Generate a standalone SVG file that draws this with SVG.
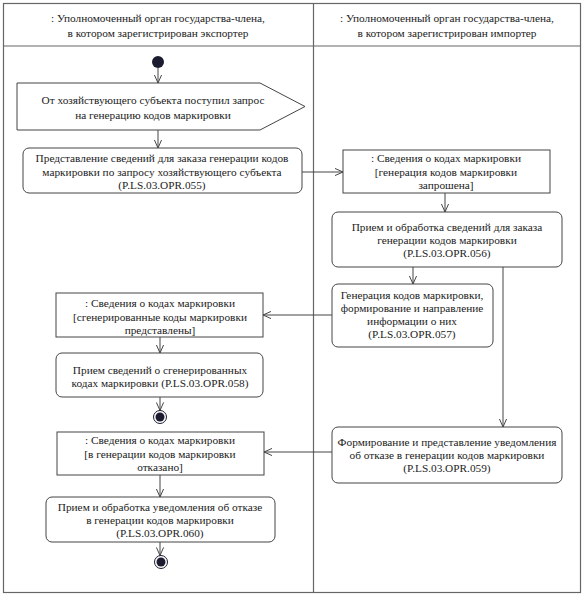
<svg xmlns="http://www.w3.org/2000/svg" width="587" height="598" viewBox="0 0 587 598">
<defs>
<style>
text{font-family:'Liberation Serif','Times New Roman',serif;font-size:11.3px;fill:#222;text-anchor:middle}
.box{fill:#fff;stroke:#444;stroke-width:1}
.frame{fill:none;stroke:#666;stroke-width:1.2}
.conn{fill:none;stroke:#444;stroke-width:1}
</style>
<marker id="arr" viewBox="0 0 10 10" refX="9" refY="5" markerWidth="9" markerHeight="9" orient="auto" markerUnits="userSpaceOnUse">
<path d="M0,1 L9,5 L0,9" fill="none" stroke="#444" stroke-width="1.1"/>
</marker>
</defs>
<rect width="587" height="598" fill="#fff"/>
<g id="frame">
<rect class="frame" x="3.5" y="3.5" width="577" height="589"/>
<line class="frame" x1="3.5" y1="46" x2="580.5" y2="46"/>
<line class="frame" x1="313.5" y1="3.5" x2="313.5" y2="592.5"/>
</g>
<g id="lane-exporter">
<text x="158" y="22">: Уполномоченный орган государства-члена,</text>
<text x="158" y="37">в котором зарегистрирован экспортер</text>
</g>
<g id="lane-importer">
<text x="447" y="22">: Уполномоченный орган государства-члена,</text>
<text x="447" y="37">в котором зарегистрирован импортер</text>
</g>
<g id="connectors">
<line class="conn" x1="158" y1="68" x2="158" y2="83" marker-end="url(#arr)"/>
<line class="conn" x1="158" y1="130" x2="158" y2="148" marker-end="url(#arr)"/>
<line class="conn" x1="302" y1="172" x2="343" y2="172" marker-end="url(#arr)"/>
<line class="conn" x1="445" y1="193" x2="445" y2="212" marker-end="url(#arr)"/>
<line class="conn" x1="413" y1="267" x2="413" y2="284" marker-end="url(#arr)"/>
<line class="conn" x1="503" y1="267" x2="503" y2="427" marker-end="url(#arr)"/>
<line class="conn" x1="332" y1="315" x2="263" y2="315" marker-end="url(#arr)"/>
<line class="conn" x1="160" y1="337" x2="160" y2="353" marker-end="url(#arr)"/>
<line class="conn" x1="160" y1="397" x2="160" y2="410.5" marker-end="url(#arr)"/>
<line class="conn" x1="332" y1="452" x2="264" y2="452" marker-end="url(#arr)"/>
<line class="conn" x1="160" y1="475" x2="160" y2="497" marker-end="url(#arr)"/>
<line class="conn" x1="160" y1="542" x2="160" y2="555.5" marker-end="url(#arr)"/>
</g>
<g id="start">
<circle cx="158" cy="62" r="6" fill="#1c1c30"/>
</g>
<g id="signal-request">
<polygon class="box" points="17,83 260,83 305,106.5 260,130 17,130"/>
<text x="153" y="104">От хозяйствующего субъекта поступил запрос</text>
<text x="153" y="119">на генерацию кодов маркировки</text>
</g>
<g id="act-055">
<rect class="box" x="23" y="148" width="279" height="45" rx="6"/>
<text x="162" y="162">Представление сведений для заказа генерации кодов</text>
<text x="162" y="176">маркировки по запросу хозяйствующего субъекта</text>
<text x="162" y="189">(P.LS.03.OPR.055)</text>
</g>
<g id="obj-requested">
<rect class="box" x="343" y="150" width="207" height="43"/>
<text x="446" y="162">: Сведения о кодах маркировки</text>
<text x="446" y="176">[генерация кодов маркировки</text>
<text x="446" y="189">запрошена]</text>
</g>
<g id="act-056">
<rect class="box" x="332" y="212" width="230" height="55" rx="6"/>
<text x="447" y="231">Прием и обработка сведений для заказа</text>
<text x="447" y="244">генерации кодов маркировки</text>
<text x="447" y="257">(P.LS.03.OPR.056)</text>
</g>
<g id="act-057">
<rect class="box" x="332" y="284" width="161" height="63" rx="6"/>
<text x="412" y="299">Генерация кодов маркировки,</text>
<text x="412" y="312">формирование и направление</text>
<text x="412" y="325">информации о них</text>
<text x="412" y="338">(P.LS.03.OPR.057)</text>
</g>
<g id="obj-generated">
<rect class="box" x="56" y="293" width="207" height="44"/>
<text x="160" y="307">: Сведения о кодах маркировки</text>
<text x="160" y="321">[сгенерированные коды маркировки</text>
<text x="160" y="334">представлены]</text>
</g>
<g id="act-058">
<rect class="box" x="56" y="353" width="207" height="44" rx="6"/>
<text x="160" y="374">Прием сведений о сгенерированных</text>
<text x="160" y="387">кодах маркировки (P.LS.03.OPR.058)</text>
</g>
<g id="end-1">
<circle cx="160" cy="417" r="6.5" fill="#fff" stroke="#1c1c30" stroke-width="1"/>
<circle cx="160" cy="417" r="4.5" fill="#1c1c30"/>
</g>
<g id="act-059">
<rect class="box" x="332" y="427" width="230" height="56" rx="6"/>
<text x="447" y="446">Формирование и представление уведомления</text>
<text x="447" y="459">об отказе в генерации кодов маркировки</text>
<text x="447" y="472">(P.LS.03.OPR.059)</text>
</g>
<g id="obj-refused">
<rect class="box" x="57" y="432" width="207" height="43"/>
<text x="160" y="444">: Сведения о кодах маркировки</text>
<text x="160" y="458">[в генерации кодов маркировки</text>
<text x="160" y="471">отказано]</text>
</g>
<g id="act-060">
<rect class="box" x="46" y="497" width="229" height="45" rx="6"/>
<text x="160" y="511">Прием и обработка уведомления об отказе</text>
<text x="160" y="524">в генерации кодов маркировки</text>
<text x="160" y="537">(P.LS.03.OPR.060)</text>
</g>
<g id="end-2">
<circle cx="161" cy="562" r="6.5" fill="#fff" stroke="#1c1c30" stroke-width="1"/>
<circle cx="161" cy="562" r="4.5" fill="#1c1c30"/>
</g>
</svg>
